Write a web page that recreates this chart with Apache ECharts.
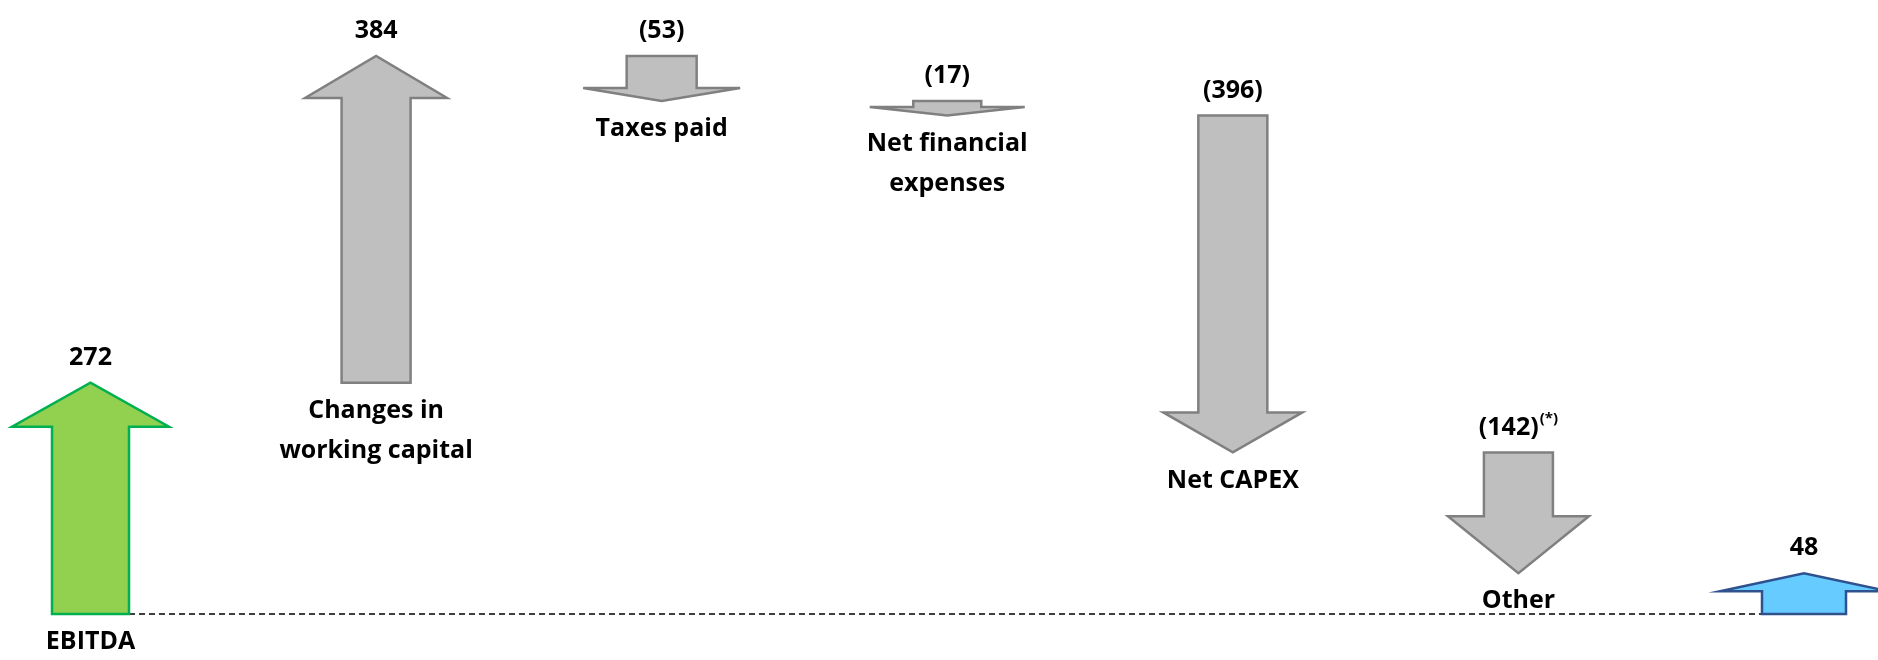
<!DOCTYPE html>
<html>
<head>
<meta charset="utf-8">
<script src="https://cdn.jsdelivr.net/npm/echarts@6/dist/echarts.min.js"></script>
<style>
  html, body { margin: 0; padding: 0; background: #ffffff; }
  #chart { width: 1878px; height: 660px; }
</style>
</head>
<body>
<div id="chart"></div>
<script>
// ---- data ----
const categories = ['EBITDA', 'Changes in\nworking capital', 'Taxes paid', 'Net financial\nexpenses', 'Net CAPEX', 'Other', ''];
const changes = [272, 384, -53, -17, -396, -142, 48];
const kinds = ['total', 'delta', 'delta', 'delta', 'delta', 'delta', 'total'];
const valueLabels = ['272', '384', '(53)', '(17)', '(396)', '(142)', '48'];
const footnoteMarks = ['', '', '', '', '', '(*)', ''];

// ---- styles (not data) ----
const shaftW = [77, 69, 70, 68, 69, 69, 84];
const headW = [157, 142, 157, 155, 139, 141, 168];
const headLen = [44, 42, 13, 13, 40, 57, 18];
const colors = {
  first: { fill: '#92D050', stroke: '#00B050' },
  delta: { fill: '#BFBFBF', stroke: '#808080' },
  last: { fill: '#66CCFF', stroke: '#2F528F' }
};
const FONT = '"Open Sans", "Liberation Sans", sans-serif';
const FS = 25;

// build start/end pairs from the changes
const rows = [];
let running = 0;
changes.forEach((c, i) => {
  let start, end;
  if (kinds[i] === 'total') { start = 0; end = c; running = c; }
  else { start = running; end = running + c; running = end; }
  rows.push([i, start, end]);
});

const chart = echarts.init(document.getElementById('chart'), null, { renderer: 'canvas' });

function renderItem(params, api) {
  const i = params.dataIndex;
  const start = api.value(1), end = api.value(2);
  const p0 = api.coord([i, start]);
  const p1 = api.coord([i, end]);
  const x = p0[0], y0 = p0[1], y1 = p1[1];
  const len = Math.abs(y1 - y0);
  const dir = y1 < y0 ? -1 : 1;
  const head = Math.min(headLen[i], len * 0.6);
  const ys = y1 - dir * head;
  const sw = shaftW[i] / 2, hw = headW[i] / 2;
  const col = i === 0 ? colors.first : (i === changes.length - 1 ? colors.last : colors.delta);
  const children = [];

  if (i === changes.length - 1) {
    const b0 = api.coord([0, 0]);
    children.push({
      type: 'line',
      shape: { x1: b0[0] + shaftW[0] / 2, y1: b0[1], x2: x - sw, y2: b0[1] },
      style: { stroke: '#000', lineWidth: 1.5, lineDash: [6, 4] },
      z2: 0
    });
  }

  children.push({
    type: 'polygon',
    shape: { points: [[x - sw, y0], [x - sw, ys], [x - hw, ys], [x, y1], [x + hw, ys], [x + sw, ys], [x + sw, y0]] },
    style: { fill: col.fill, stroke: col.stroke, lineWidth: 2.5, lineJoin: 'miter' },
    z2: 1
  });

  const top = Math.min(y0, y1), bottom = Math.max(y0, y1);
  const vtxt = footnoteMarks[i] ? '{v|' + valueLabels[i] + '}{s|' + footnoteMarks[i] + '}' : '{v|' + valueLabels[i] + '}';
  children.push({
    type: 'text',
    x: x, y: top - 25,
    style: {
      text: vtxt, align: 'center', verticalAlign: 'middle',
      rich: {
        v: { fontFamily: FONT, fontWeight: 'bold', fontSize: FS, fill: '#000', lineHeight: 32 },
        s: { fontFamily: FONT, fontWeight: 'bold', fontSize: 15, fill: '#000', lineHeight: 32, verticalAlign: 'top', padding: [0, 0, 16, 1] }
      }
    },
    z2: 2
  });

  if (categories[i]) {
    children.push({
      type: 'text',
      x: x, y: bottom + 8,
      style: {
        text: categories[i], align: 'center', verticalAlign: 'top',
        fontFamily: FONT, fontWeight: 'bold', fontSize: FS, fill: '#000', lineHeight: 40
      },
      z2: 2
    });
  }

  return { type: 'group', children: children };
}

chart.setOption({
  animation: false,
  backgroundColor: '#ffffff',
  grid: { left: 90.5, right: 74, top: 18.6, bottom: 46 },
  xAxis: { type: 'category', data: categories, boundaryGap: false, show: false },
  yAxis: { type: 'value', min: 0, max: 700, show: false },
  series: [{
    type: 'custom',
    renderItem: renderItem,
    data: rows,
    clip: false
  }]
});
</script>
</body>
</html>
